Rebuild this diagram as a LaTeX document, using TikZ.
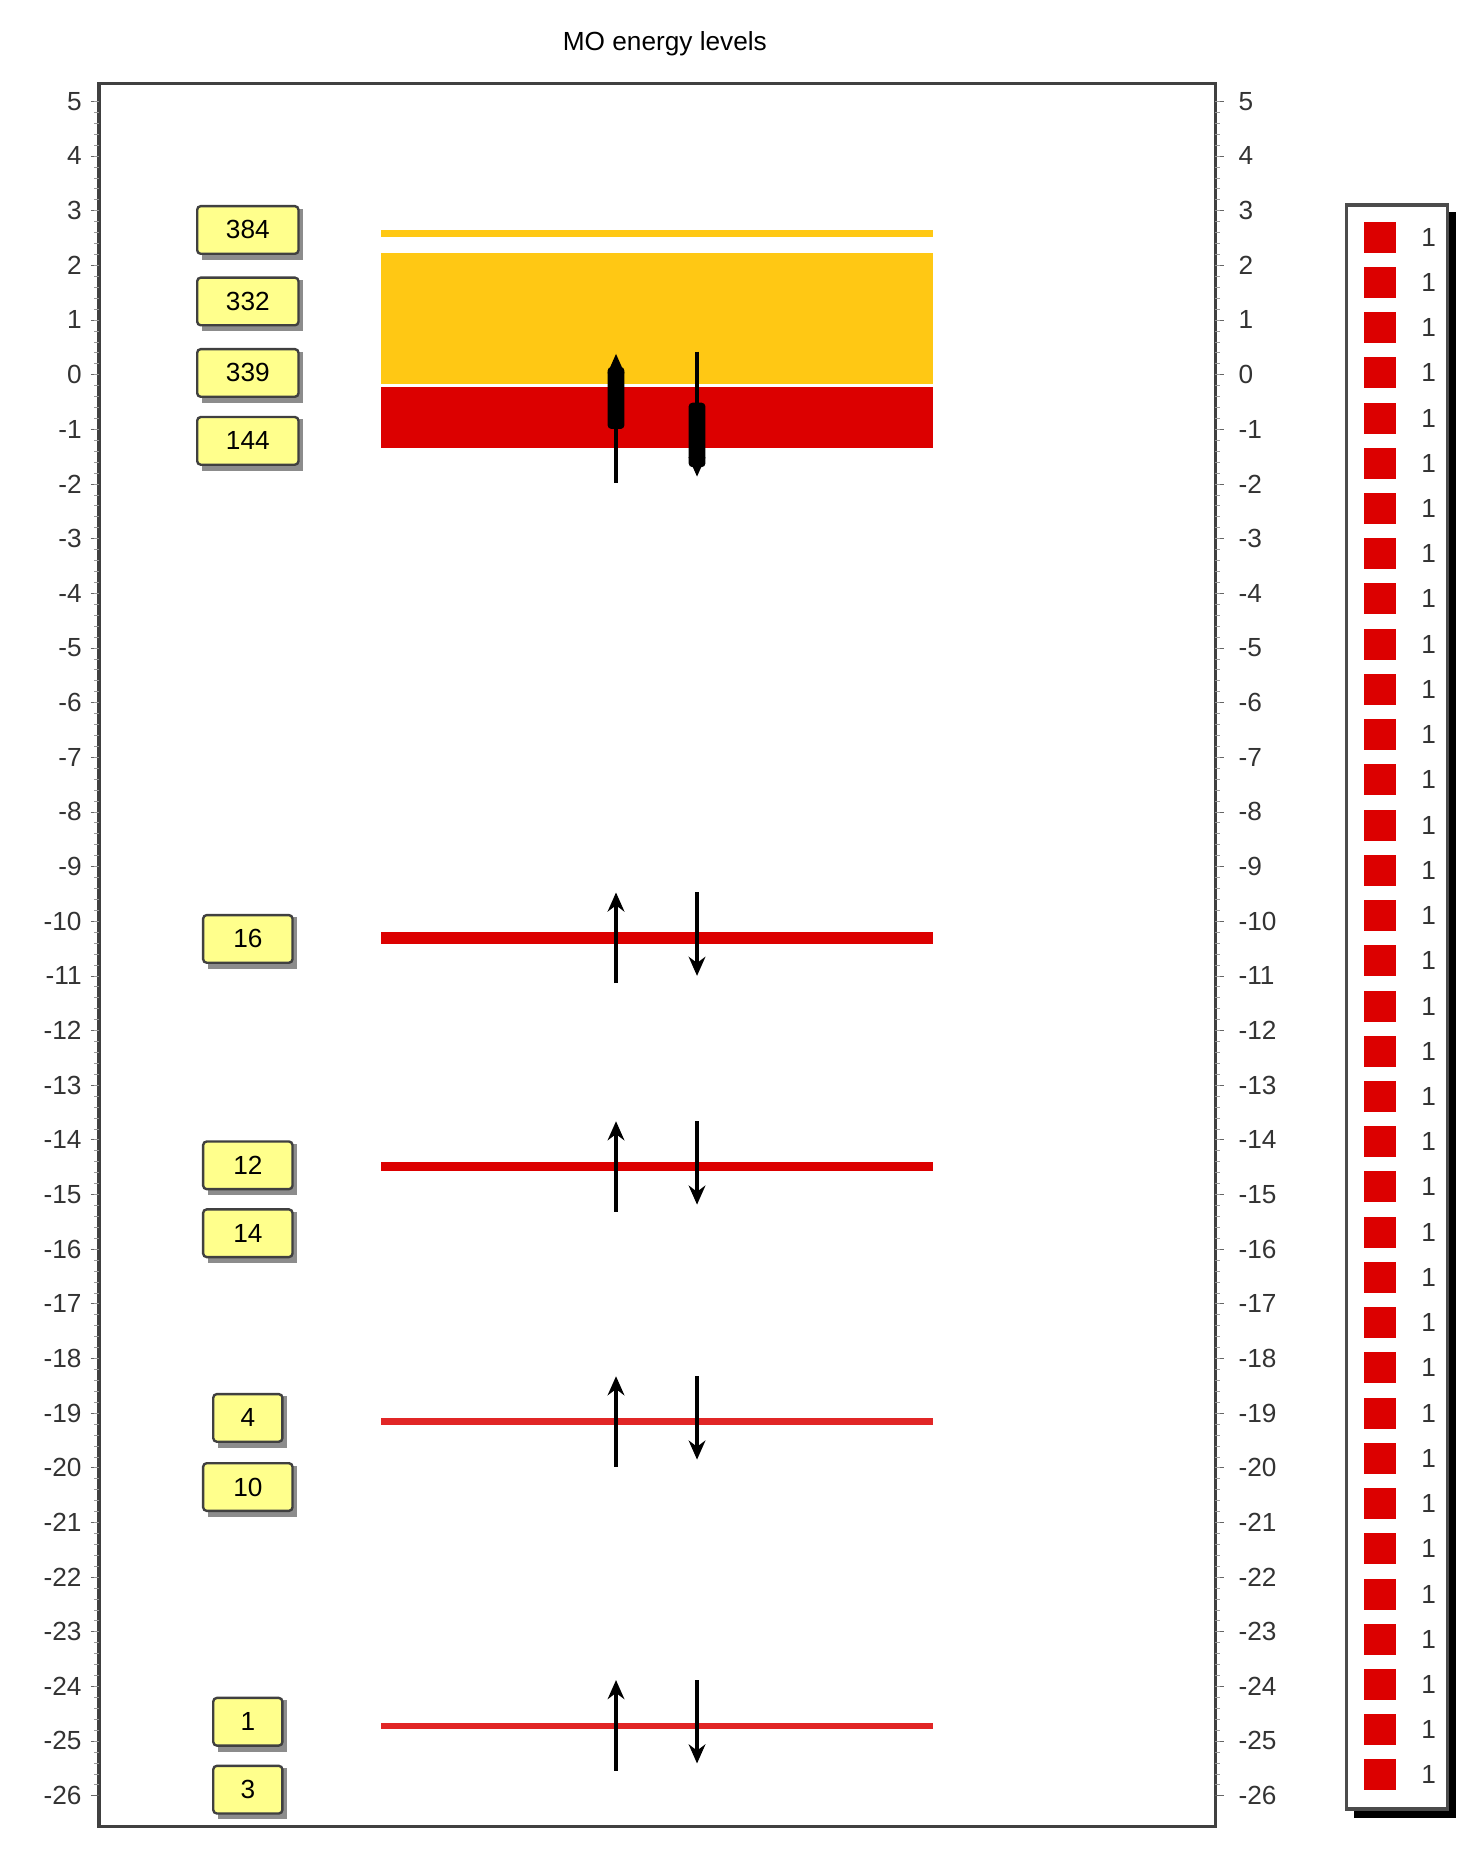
\documentclass[tikz,border=0pt]{standalone}
\usepackage{fontspec}
\setmainfont{Liberation Sans}
\usetikzlibrary{arrows.meta}
\definecolor{lred}{RGB}{220,0,0}
\definecolor{lyel}{RGB}{255,200,20}
\definecolor{boxy}{RGB}{255,255,140}
\begin{document}
\begin{tikzpicture}[x=1pt,y=-1pt,
  tick/.style={font=\fontsize{22}{22}\selectfont, text=black!80},
  lbl/.style={draw=black!75,line width=2pt,fill=boxy,rounded corners=3pt,minimum height=40,font=\fontsize{22}{22}\selectfont,inner sep=0pt},
  spin/.style={line width=3pt,-{Stealth[length=16pt,width=14pt]}}]
\useasboundingbox (0,0) rectangle (1245,1556);
\node[font=\fontsize{22}{22}\selectfont] (title) at (558,37) {MO energy levels};
% frame
\draw[line width=3pt,black!75] (83,70) rectangle (1020,1533);
\foreach \e in {5,4,...,-26}{
  \pgfmathsetmacro{\yy}{85+(5-\e)*45.87}
  \node[tick,anchor=east] at (72,\yy) {\e};
  \node[tick,anchor=west] at (1036,\yy) {\e};
  \draw[black!60] (76,\yy) -- (83,\yy);
  \draw[black!60] (1020,\yy) -- (1027,\yy);
}
\foreach \k in {0,...,154}{
  \pgfmathsetmacro{\yy}{85+\k*9.174}
  \draw[black!40] (79,\yy) -- (83,\yy);
  \draw[black!40] (1020,\yy) -- (1024,\yy);
}
% bands
\fill[lyel] (320,193) rectangle (783,199);
\fill[lyel] (320,212) rectangle (783,322);
\fill[lred] (320,325) rectangle (783,376);
\fill[lred] (320,782) rectangle (783,792);
\fill[lred] (320,975) rectangle (783,983);
\fill[lred!85] (320,1190) rectangle (783,1196);
\fill[lred!85] (320,1446) rectangle (783,1451);
% arrows
\coordinate (u0a) at (517,405); \coordinate (u0b) at (517,297);
\coordinate (d0a) at (585,295); \coordinate (d0b) at (585,400);
\draw[spin] (u0a) -- (u0b);
\draw[spin] (d0a) -- (d0b);
\fill[rounded corners=3pt] (510,308) rectangle (524,360);
\fill[rounded corners=3pt] (578,338) rectangle (592,392);
\foreach \y/\n in {787/1,979/2,1193/3,1448/4}{
  \coordinate (ua\n) at (517,\y+38); \coordinate (ub\n) at (517,\y-38);
  \coordinate (da\n) at (585,\y-38); \coordinate (db\n) at (585,\y+32);
  \draw[spin] (ua\n) -- (ub\n);
  \draw[spin] (da\n) -- (db\n);
}
% label boxes
\foreach \y/\t/\w/\n in {193/384/85/a,253/332/85/b,313/339/85/c,370/144/85/d,788/16/75/e,978/12/75/f,1035/14/75/g,1190/4/58/h,1248/10/75/i,1445/1/58/j,1502/3/58/k}{
  \fill[black!45] (208-\w/2+4,\y-18) rectangle (208+\w/2+4,\y+25);
  \node[lbl,minimum width=\w] (L\n) at (208,\y) {\t};
}
% legend
\fill[black] (1136,178) rectangle (1222,1526);
\draw[line width=3pt,black!70,fill=white] (1130,172) rectangle (1215,1518);
\foreach \k in {0,...,34}{
  \pgfmathsetmacro{\yy}{199+\k*37.96}
  \fill[lred] (1145,\yy-13) rectangle (1172,\yy+13);
  \node[tick] at (1199,\yy) {1};
}
\end{tikzpicture}
\end{document}
